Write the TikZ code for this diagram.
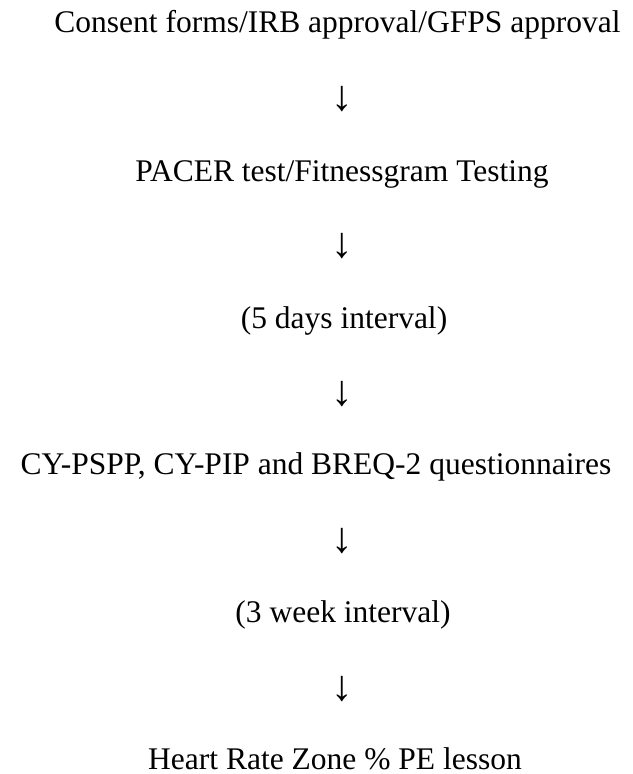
\documentclass[tikz,border=0pt]{standalone}
\usepackage{fontspec}
\setmainfont{Liberation Serif}
\begin{document}
\begin{tikzpicture}[x=1bp,y=-1bp,
  lbl/.style={anchor=base, inner sep=0pt, font=\fontsize{31.5bp}{36bp}\selectfont},
  arr/.style={anchor=center, inner sep=0pt, font=\fontsize{43bp}{48bp}\selectfont}]
\useasboundingbox (0,0) rectangle (633,774);
\node[lbl] (t1) at (337.5,33) {Consent forms/IRB approval/GFPS approval};
\node[arr] (a1) at (342.7,99) {↓};
\node[lbl] (t2) at (342,181) {PACER test/Fitnessgram Testing};
\node[arr] (a2) at (342.7,246.4) {↓};
\node[lbl] (t3) at (344,328) {(5 days interval)};
\node[arr] (a3) at (342.7,393.8) {↓};
\node[lbl] (t4) at (316,474) {CY-PSPP, CY-PIP and BREQ-2 questionnaires};
\node[arr] (a4) at (342.7,541.2) {↓};
\node[lbl] (t5) at (343,622) {(3 week interval)};
\node[arr] (a5) at (342.7,688.6) {↓};
\node[lbl] (t6) at (335,769) {Heart Rate Zone \% PE lesson};
\end{tikzpicture}
\end{document}
